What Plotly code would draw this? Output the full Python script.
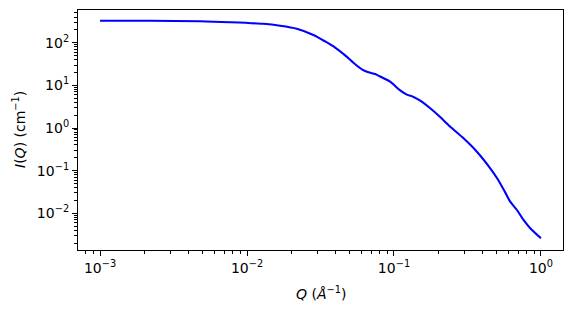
import plotly.graph_objects as go

q_values = [0.001, 0.00219, 0.004795, 0.007674, 0.01293, 0.0168, 0.02183, 0.02831,
            0.03401, 0.03979, 0.04654, 0.05444, 0.06045, 0.06705, 0.07447, 0.08054,
            0.09421, 0.1102, 0.1224, 0.1358, 0.1508, 0.1764, 0.2009, 0.2415,
            0.2974, 0.3666, 0.4518, 0.512, 0.572, 0.618, 0.6866, 0.761, 0.8455, 1.0]
intensity = [328, 326, 319, 302.6, 277.4, 250.4, 213, 152,
             107, 77, 50.5, 31.2, 23.8, 20.2, 18.45, 16.13,
             12.18, 7.6, 6.05, 5.35, 4.37, 2.90, 1.96, 1.07,
             0.573, 0.278, 0.1135, 0.0604, 0.0305, 0.0187, 0.01194, 0.00697, 0.00445, 0.00259]

x_tick_vals = [1e-3, 1e-2, 1e-1, 1e0]
x_tick_text = ["10<sup>−3</sup>", "10<sup>−2</sup>", "10<sup>−1</sup>", "10<sup>0</sup>"]
y_tick_vals = [1e-2, 1e-1, 1e0, 1e1, 1e2]
y_tick_text = ["10<sup>−2</sup>", "10<sup>−1</sup>", "10<sup>0</sup>", "10<sup>1</sup>", "10<sup>2</sup>"]

x_range = [-3.15, 0.15]
y_range = [-2.861, 2.767]

def minor_vals(lo, hi):
    vals = []
    for d in range(-5, 4):
        for m in range(2, 10):
            v = m * 10.0 ** d
            if 10 ** lo <= v <= 10 ** hi:
                vals.append(v)
    return vals

font = dict(family="DejaVu Sans", size=14, color="black")

fig = go.Figure()
fig.add_trace(go.Scatter(x=q_values, y=intensity, mode="lines",
                         line=dict(color="#0000ff", width=2.1, shape="spline", smoothing=0.7),
                         showlegend=False))

axis_common = dict(type="log", showgrid=False, zeroline=False, showline=True,
                   linecolor="black", linewidth=1.1, mirror=True,
                   ticks="outside", ticklen=5, tickwidth=1.1, tickcolor="black",
                   tickfont=font, tickmode="array")

fig.update_xaxes(range=x_range, tickvals=x_tick_vals, ticktext=x_tick_text,
                 minor=dict(ticks="outside", ticklen=3, tickwidth=0.8, tickcolor="black",
                            tickvals=minor_vals(*x_range), showgrid=False),
                 **axis_common)
fig.update_yaxes(range=y_range, tickvals=y_tick_vals, ticktext=y_tick_text,
                 minor=dict(ticks="outside", ticklen=3, tickwidth=0.8, tickcolor="black",
                            tickvals=minor_vals(*y_range), showgrid=False),
                 **axis_common)

fig.add_annotation(text="<i>Q</i> (<i>Å</i><sup>−1</sup>)", xref="paper", yref="paper",
                   x=0.5, y=(250 - 293) / 240, xanchor="center", yanchor="middle",
                   showarrow=False, font=font)
fig.add_annotation(text="<i>I</i>(<i>Q</i>) (cm<sup>−1</sup>)", xref="paper", yref="paper",
                   x=(19 - 78) / 485, y=0.5, xanchor="center", yanchor="middle",
                   textangle=-90, showarrow=False, font=font)

fig.update_layout(width=573, height=313, margin=dict(l=78, r=10, t=10, b=63),
                  paper_bgcolor="white", plot_bgcolor="white", font=font)

fig.write_html("out.html")
